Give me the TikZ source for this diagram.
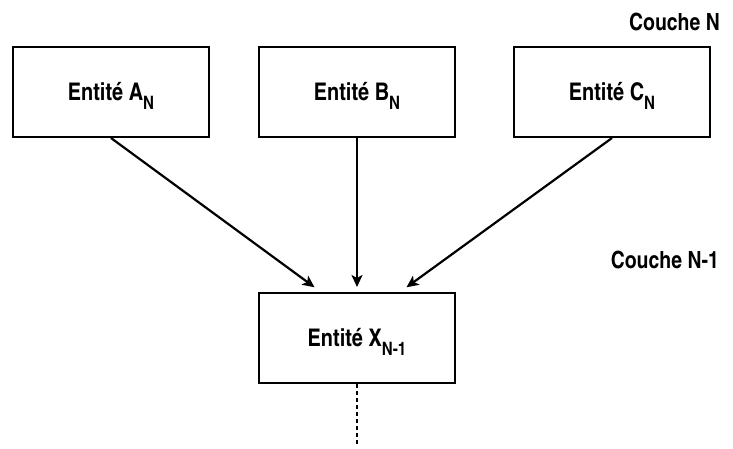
\documentclass[tikz,border=0pt]{standalone}
\usepackage{fontspec}
\setmainfont{TeX Gyre Heros Cn}[UprightFont=*,BoldFont=* Bold]
\usetikzlibrary{arrows.meta}
\newcommand{\subN}[1]{\raisebox{-9pt}[0pt][0pt]{\fontsize{18.5}{18.5}\selectfont #1}}
\tikzset{
  entbox/.style={draw=black, line width=2pt, minimum width=196pt, minimum height=90pt, inner sep=0pt, text height=17pt, text depth=0pt, font=\fontsize{24.3}{28}\selectfont\bfseries},
  conn/.style={line width=2.2pt, -{Stealth[length=12pt,width=11pt,inset=3pt]}},
  layer/.style={font=\fontsize{23.7}{28}\selectfont\bfseries, inner sep=0pt},
}
\begin{document}
\begin{tikzpicture}[x=1pt,y=-1pt]
\useasboundingbox (0,0) rectangle (733,448);
\node[entbox] (A) at (111,92) {Entité A\subN{N}};
\node[entbox] (B) at (357,92) {Entité B\subN{N}};
\node[entbox] (C) at (612,92) {Entité C\subN{N}};
\node[entbox] (X) at (357,338) {Entité X\subN{N-1}};
\node[layer, anchor=base east] (LN) at (720,30) {Couche N};
\node[layer, anchor=base east] (LN1) at (719,268) {Couche N-1};
\coordinate (bot) at (357,445);
\draw[conn, shorten >=8pt] (A.south) -- ([xshift=-36pt]X.north);
\draw[conn, shorten >=5pt] (B.south) -- (X.north);
\draw[conn, shorten >=8pt] (C.south) -- ([xshift=43pt]X.north);
\draw[line width=2.2pt, dash pattern=on 4pt off 3pt] (X.south) -- (bot);
\end{tikzpicture}
\end{document}
